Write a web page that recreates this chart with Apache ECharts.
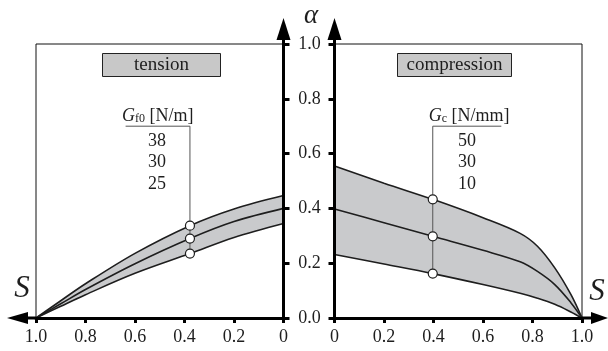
<!DOCTYPE html>
<html><head><meta charset="utf-8">
<script src="https://cdn.jsdelivr.net/npm/echarts@6/dist/echarts.min.js"></script>
<style>html,body{margin:0;padding:0;background:#fff}#c{width:608px;height:351px}</style>
</head><body><div id="c"></div>
<script>
// ---- data ----
const sTension      = [0,     0.2,   0.378, 0.6,   0.8,   0.9,   1];
const tensionUpper  = [0.447, 0.398, 0.337, 0.236, 0.125, 0.063, 0];
const tensionMid    = [0.400, 0.352, 0.290, 0.198, 0.104, 0.052, 0];
const tensionLower  = [0.345, 0.294, 0.235, 0.163, 0.085, 0.043, 0];
const tensionMarkerIdx = 2;
const tensionHeaderS = 0.638;
const tensionValues = ['38', '30', '25'];

const sCompression     = [0,     0.2,   0.397, 0.6,   0.75,  0.82,  0.89,  0.955, 1];
const compressionUpper = [0.555, 0.492, 0.433, 0.366, 0.309, 0.262, 0.183, 0.086, 0];
const compressionMid   = [0.398, 0.348, 0.298, 0.247, 0.205, 0.170, 0.122, 0.056, 0];
const compressionLower = [0.232, 0.197, 0.162, 0.122, 0.090, 0.072, 0.050, 0.022, 0];
const compressionMarkerIdx = 2;
const compressionHeaderS = 0.674;
const compressionValues = ['50', '30', '10'];

const headerAlpha = 0.70;
const axisMin = 0, axisMax = 1, axisStep = 0.2;

// ---- chart ----
const FONT = 'Liberation Serif, Times New Roman, serif';
const INK = '#1e1e1e';
const BAND = '#c9cacc';
const chart = echarts.init(document.getElementById('c'), null, {renderer: 'canvas'});

function zip(a, b) { return a.map((v, i) => [v, b[i]]); }

function xAxisCfg(grid, inverse) {
  return {
    type: 'value', gridIndex: grid, min: axisMin, max: axisMax, interval: axisStep, inverse: inverse, z: 10,
    axisLine: {show: true, onZero: false, lineStyle: {color: '#000', width: 3}},
    axisTick: {show: true, length: 5, lineStyle: {color: '#000', width: 3}},
    axisLabel: {show: true, margin: 10, color: INK, fontSize: 18, fontFamily: FONT,
      formatter: v => v === 0 ? '0' : v.toFixed(1)},
    splitLine: {show: false}
  };
}
function yAxisCfg(grid, pos, showLabel) {
  return {
    type: 'value', gridIndex: grid, position: pos, min: axisMin, max: axisMax, interval: axisStep, z: 10,
    axisLine: {show: true, onZero: false, lineStyle: {color: '#000', width: 3}},
    axisTick: {show: true, length: 6, lineStyle: {color: '#000', width: 3}},
    axisLabel: {show: showLabel, margin: 25, align: 'center', color: INK, fontSize: 18, fontFamily: FONT,
      formatter: v => v.toFixed(1)},
    splitLine: {show: false}
  };
}

function panelSeries(idx, s, up, mid, low, mIdx, hS) {
  const common = {xAxisIndex: idx, yAxisIndex: idx, symbol: 'none', smooth: 0.35, silent: true, animation: false};
  const lineStyle = {color: INK, width: 1.6};
  return [
    // gray fill under the upper curve, then white fill under the lower curve -> band between them
    Object.assign({}, common, {type: 'line', z: 1, data: zip(s, up), lineStyle: {opacity: 0},
      areaStyle: {color: BAND, opacity: 1, origin: 'start'}}),
    Object.assign({}, common, {type: 'line', z: 1, data: zip(s, low), lineStyle: {opacity: 0},
      areaStyle: {color: '#fff', opacity: 1, origin: 'start'}}),
    Object.assign({}, common, {type: 'line', z: 3, data: zip(s, up), lineStyle}),
    Object.assign({}, common, {type: 'line', z: 3, data: zip(s, mid), lineStyle}),
    Object.assign({}, common, {type: 'line', z: 3, data: zip(s, low), lineStyle}),
    Object.assign({}, common, {type: 'line', z: 4, smooth: false,
      data: [[hS, headerAlpha], [s[mIdx], headerAlpha], [s[mIdx], low[mIdx]]],
      lineStyle: {color: '#555', width: 1}}),
    {type: 'scatter', xAxisIndex: idx, yAxisIndex: idx, silent: true, animation: false, z: 5,
      symbol: 'circle', symbolSize: 9,
      itemStyle: {color: '#fff', borderColor: INK, borderWidth: 1.2, opacity: 1},
      data: [[s[mIdx], up[mIdx]], [s[mIdx], mid[mIdx]], [s[mIdx], low[mIdx]]]}
  ];
}

const option = {
  animation: false,
  backgroundColor: '#fff',
  grid: [
    {left: 36, top: 44, width: 247.5, height: 274, show: true, borderColor: '#111', borderWidth: 1, backgroundColor: 'transparent'},
    {left: 334.5, top: 44, width: 247.5, height: 274, show: true, borderColor: '#111', borderWidth: 1, backgroundColor: 'transparent'}
  ],
  xAxis: [xAxisCfg(0, true), xAxisCfg(1, false)],
  yAxis: [yAxisCfg(0, 'right', false), yAxisCfg(1, 'left', true)],
  series: [
    ...panelSeries(0, sTension, tensionUpper, tensionMid, tensionLower, tensionMarkerIdx, tensionHeaderS),
    ...panelSeries(1, sCompression, compressionUpper, compressionMid, compressionLower, compressionMarkerIdx, compressionHeaderS)
  ]
};
chart.setOption(option);

// ---- decorations: arrows, titles, legend tables ----
const pL = chart.convertToPixel({gridIndex: 0}, [1, 0]);
const pLt = chart.convertToPixel({gridIndex: 0}, [0, 1]);
const pR = chart.convertToPixel({gridIndex: 1}, [1, 0]);
const pRt = chart.convertToPixel({gridIndex: 1}, [0, 1]);
const hdrY = chart.convertToPixel({gridIndex: 0}, [0, headerAlpha])[1];
const hL = chart.convertToPixel({gridIndex: 0}, [(tensionHeaderS + sTension[tensionMarkerIdx]) / 2, 0])[0];
const hR = chart.convertToPixel({gridIndex: 1}, [(compressionHeaderS + sCompression[compressionMarkerIdx]) / 2, 0])[0];

const g = [];
function seg(x1, y1, x2, y2, w) { g.push({type: 'line', silent: true, z: 100, shape: {x1, y1, x2, y2}, style: {stroke: '#000', lineWidth: w}}); }
function tri(pts) { g.push({type: 'polygon', silent: true, z: 100, shape: {points: pts}, style: {fill: '#000'}}); }
function txt(x, y, text, size, italic, extra) {
  g.push({type: 'text', silent: true, z: 100, x, y,
    style: Object.assign({text, fontSize: size, fontFamily: FONT, fontStyle: italic ? 'italic' : 'normal',
      fill: INK, align: 'center', verticalAlign: 'middle'}, extra || {})});
}
// x arrows
seg(pL[0] - 9, pL[1], pL[0], pL[1], 3);
tri([[pL[0] - 29, pL[1]], [pL[0] - 8, pL[1] - 6], [pL[0] - 8, pL[1] + 6]]);
seg(pR[0], pR[1], pR[0] + 10, pR[1], 3);
tri([[pR[0] + 26, pR[1]], [pR[0] + 9, pR[1] - 6], [pR[0] + 9, pR[1] + 6]]);
// y arrows
[pLt, pRt].forEach(p => {
  seg(p[0], p[1], p[0], p[1] - 6, 3);
  tri([[p[0], p[1] - 26], [p[0] - 7, p[1] - 4], [p[0] + 7, p[1] - 4]]);
});
// axis names
txt((pLt[0] + pRt[0]) / 2 + 2, 16, 'α', 27, true);
txt(22, 289, 'S', 31, true);
txt(597, 292, 'S', 31, true);
// boxed titles
g.push({type: 'rect', silent: true, z: 99, shape: {x: 102.5, y: 53.5, width: 118, height: 23}, style: {fill: '#c8c8c8', stroke: '#222', lineWidth: 1}});
txt(161.5, 65, 'tension', 19, false);
g.push({type: 'rect', silent: true, z: 99, shape: {x: 397.5, y: 53.5, width: 114, height: 23}, style: {fill: '#c8c8c8', stroke: '#222', lineWidth: 1}});
txt(454.5, 65, 'compression', 19, false);
// legend headers
function header(x, sub, unit) {
  txt(x, hdrY - 10, '{g|G}{s|' + sub + '}{n| [' + unit + ']}', 18, false, {
    rich: {
      g: {fontSize: 18, fontFamily: FONT, fontStyle: 'italic', fill: INK},
      s: {fontSize: 12, fontFamily: FONT, fill: INK, padding: [5, 0, 0, 0]},
      n: {fontSize: 18, fontFamily: FONT, fill: INK}
    }
  });
}
header(hL, 'f0', 'N/m');
header(hR + 2, 'c', 'N/mm');
tensionValues.forEach((v, i) => txt(157, 141 + i * 21.5, v, 18, false));
compressionValues.forEach((v, i) => txt(467, 141 + i * 21.5, v, 18, false));

chart.setOption({graphic: {elements: g}});
</script>
</body></html>
